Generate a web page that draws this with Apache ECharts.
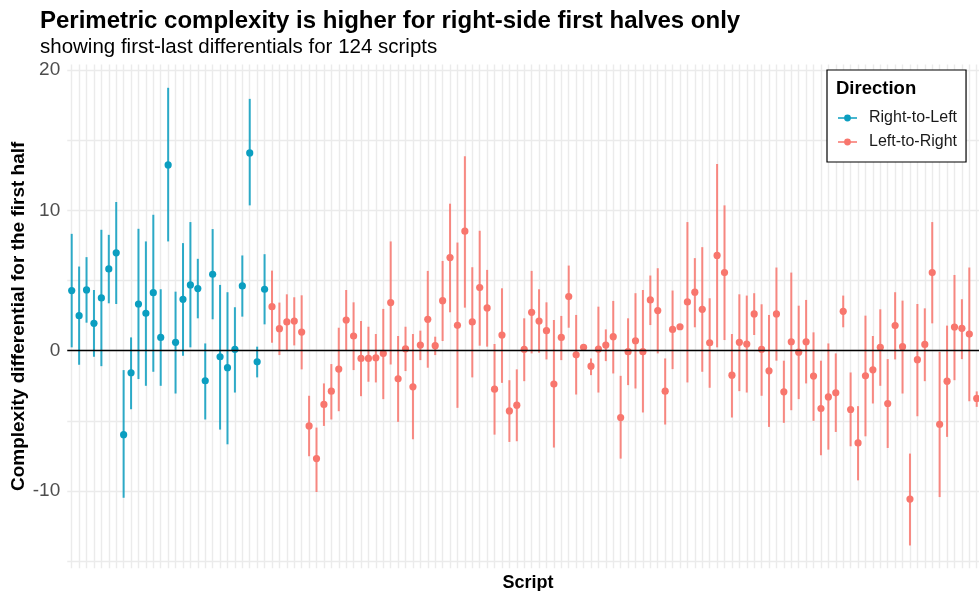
<!DOCTYPE html>
<html>
<head>
<meta charset="utf-8">
<script src="https://cdn.jsdelivr.net/npm/echarts@6/dist/echarts.min.js"></script>
<style>
  html, body { margin: 0; padding: 0; background: #fff; }
  #chart { width: 979px; height: 591px; }
</style>
</head>
<body>
<div id="chart"></div>
<script>
// first-last differentials (mean, lower, upper)
var rtlMean = [4.29, 2.5, 4.33, 1.95, 3.76, 5.83, 6.98, -5.98, -1.57, 3.33, 2.67, 4.14, 0.95, 13.24, 0.6, 3.67, 4.69, 4.43, -2.14, 5.45, -0.43, -1.21, 0.1, 4.62, 14.1, -0.79, 4.38];
var rtlLow = [0.24, -1.0, 2.0, -0.43, -1.1, 3.38, 3.33, -10.48, -4.17, -2.02, -2.5, -1.5, -2.5, 7.79, -3.05, -0.36, 0.24, 2.31, -4.9, 2.24, -5.62, -6.67, -2.98, 2.43, 10.36, -1.9, 1.88];
var rtlHigh = [8.33, 6.0, 6.67, 4.33, 8.62, 8.26, 10.6, -1.38, 0.95, 8.69, 7.79, 9.69, 4.38, 18.74, 4.21, 7.67, 9.17, 6.55, 0.52, 8.67, 4.69, 4.17, 3.1, 6.79, 17.95, 0.29, 6.88];

var ltrMean = [3.14, 1.57, 2.05, 2.12, 1.33, -5.36, -7.69, -3.83, -2.88, -1.31,
  2.19, 1.05, -0.55, -0.55, -0.5, -0.19, 3.43, -2.0, 0.14, -2.57,
  0.4, 2.24, 0.36, 3.57, 6.64, 1.81, 8.52, 2.05, 4.5, 3.05,
  -2.74, 1.12, -4.29, -3.88, 0.1, 2.74, 2.12, 1.43, -2.38, 0.95,
  3.86, -0.29, 0.24, -1.1, 0.12, 0.4, 1.0, -4.76, -0.07, 0.71,
  -0.07, 3.62, 2.86, -2.88, 1.52, 1.71, 3.48, 4.17, 2.95, 0.57,
  6.79, 5.57, -1.74, 0.6, 0.48, 2.62, 0.1, -1.43, 2.62, -2.93,
  0.64, -0.1, 0.64, -1.81, -4.12, -3.29, -3.0, 2.81, -4.19, -6.57,
  -1.79, -1.36, 0.24, -3.76, 1.79, 0.29, -10.57, -0.64, 0.45, 5.57,
  -5.24, -2.17, 1.69, 1.6, 1.19, -3.4];
var ltrLow = [0.57, -0.31, 0.05, 0.38, -1.33, -7.52, -10.07, -5.36, -4.9, -4.31,
  0.05, -1.38, -3.24, -2.21, -2.26, -3.45, -0.98, -5.07, -1.45, -6.31,
  -0.67, -1.21, -0.31, 0.69, 2.74, -4.07, 3.07, -1.9, 0.36, 0.29,
  -5.98, -2.29, -6.5, -6.45, -2.17, -0.19, -0.14, -0.62, -6.9, -0.67,
  1.64, -3.12, 0.05, -1.74, -2.98, -0.74, -1.62, -7.69, -2.45, -2.69,
  -4.4, 1.83, -0.19, -5.26, -1.31, 1.6, -2.26, 1.67, -1.5, -2.64,
  0.24, 0.76, -4.76, -2.88, -2.98, 1.12, -3.21, -5.43, -0.71, -5.14,
  -4.24, -3.45, -2.33, -5.0, -7.45, -7.05, -5.79, 1.67, -6.81, -9.24,
  -6.1, -3.76, -2.5, -6.93, -0.62, -3.05, -13.88, -4.67, -2.17, 1.95,
  -10.43, -6.14, -2.1, -0.6, -3.6, -4.0];
var ltrHigh = [5.71, 3.43, 4.02, 3.81, 3.95, -3.21, -5.48, -2.33, -0.95, 1.64,
  4.33, 3.45, 2.12, 1.71, 1.19, 2.98, 7.79, 1.05, 1.71, 1.19,
  1.43, 5.69, 1.0, 6.4, 10.48, 7.71, 13.86, 5.95, 8.55, 5.76,
  0.48, 4.45, -2.1, -1.33, 2.31, 5.69, 4.38, 3.45, 2.19, 2.48,
  6.07, 2.55, 0.4, -0.55, 3.14, 1.52, 3.55, -1.79, 2.31, 4.1,
  4.33, 5.36, 5.88, -0.55, 4.29, 1.8, 9.17, 6.6, 7.38, 3.74,
  13.31, 10.36, 1.19, 4.02, 3.93, 4.1, 3.31, 2.55, 5.93, -0.71,
  5.57, 3.21, 3.62, 1.31, -0.71, 0.52, -0.19, 3.93, -1.55, -3.95,
  2.5, 1.05, 2.95, -0.6, 4.17, 3.57, -7.33, 3.33, 3.02, 9.17,
  -0.07, 1.79, 5.4, 3.67, 5.93, -2.9];

var yTicks = [-10, 0, 10, 20];
var scriptCount = 124;

var blue = '#0B9EC0';
var red = '#F8766D';
var font = "'Liberation Sans', Arial, sans-serif";
var keyIcon = 'path://M0,3H19V4.4H0Z M9.5,0.3A3.4,3.4 0 1 1 9.49,0.3Z';

function build(mean, low, high, offset) {
  return mean.map(function (m, i) {
    return [offset + i, low[i], high[i], m];
  });
}

function renderBar(params, api) {
  var x = api.value(0);
  var top = api.coord([x, api.value(2)]);
  var bottom = api.coord([x, api.value(1)]);
  var mid = api.coord([x, api.value(3)]);
  var color = api.visual('color');
  return {
    type: 'group',
    children: [{
      type: 'line',
      shape: { x1: top[0], y1: top[1], x2: bottom[0], y2: bottom[1] },
      style: { stroke: color, lineWidth: 2, opacity: 0.85 }
    }, {
      type: 'circle',
      shape: { cx: mid[0], cy: mid[1], r: 3.6 },
      style: { fill: color }
    }]
  };
}

var myChart = echarts.init(document.getElementById('chart'));
var option = {
  backgroundColor: '#fff',
  animation: false,
  textStyle: { fontFamily: font },
  title: [{
    text: 'Perimetric complexity is higher for right-side first halves only',
    left: 35, top: 4,
    textStyle: { fontSize: 24, fontWeight: 'bold', color: '#000', fontFamily: font }
  }, {
    text: 'showing first-last differentials for 124 scripts',
    left: 35, top: 32,
    textStyle: { fontSize: 20.5, fontWeight: 'normal', color: '#000', fontFamily: font }
  }, {
    text: 'Direction',
    left: 831, top: 74, z: 10,
    textStyle: { fontSize: 18.5, fontWeight: 'bold', color: '#000', fontFamily: font }
  }],
  legend: {
    orient: 'vertical',
    left: 827, top: 70,
    padding: [40, 9, 12, 11],
    backgroundColor: '#fff',
    borderColor: '#000',
    borderWidth: 1.2,
    itemWidth: 19,
    itemHeight: 7,
    itemGap: 8,
    textStyle: { fontSize: 16, lineHeight: 16, color: '#1a1a1a', padding: [0, 0, 0, 7], fontFamily: font },
    data: [{ name: 'Right-to-Left', icon: keyIcon }, { name: 'Left-to-Right', icon: keyIcon }]
  },
  grid: { left: 67.25, right: -9.6, top: 64.5, bottom: 22.8, outerBoundsMode: 'none', containLabel: false },
  xAxis: {
    type: 'value',
    min: 0.4,
    max: scriptCount + 0.6,
    minInterval: 1,
    maxInterval: 1,
    name: 'Script',
    nameLocation: 'middle',
    nameGap: 6,
    nameTextStyle: { fontSize: 18, fontWeight: 'bold', color: '#000', fontFamily: font },
    axisLine: { show: false },
    axisTick: { show: false },
    axisLabel: { show: false },
    splitLine: { show: true, showMinLine: false, showMaxLine: false, lineStyle: { color: '#EBEBEB', width: 1.4 } }
  },
  yAxis: {
    type: 'value',
    min: -15.5,
    max: 20.4,
    minInterval: 5,
    maxInterval: 5,
    name: 'Complexity differential for the first half',
    nameLocation: 'middle',
    nameRotate: 90,
    nameGap: 39,
    nameMoveOverlap: false,
    nameTextStyle: { fontSize: 19, fontWeight: 'bold', color: '#000', fontFamily: font },
    axisLine: { show: false },
    axisTick: { show: false },
    axisLabel: {
      margin: 7,
      fontSize: 19,
      color: '#4D4D4D',
      fontFamily: font,
      showMinLabel: false,
      showMaxLabel: false,
      formatter: function (v) { return yTicks.indexOf(v) >= 0 ? String(v) : ''; }
    },
    splitLine: { show: true, showMinLine: false, showMaxLine: false, lineStyle: { color: '#EBEBEB', width: 1.4 } }
  },
  series: [{
    name: 'Right-to-Left',
    type: 'custom',
    color: blue,
    renderItem: renderBar,
    encode: { x: 0, y: [1, 2, 3] },
    data: build(rtlMean, rtlLow, rtlHigh, 1),
    markLine: {
      silent: true,
      symbol: 'none',
      label: { show: false },
      lineStyle: { color: '#000', width: 1.3, type: 'solid' },
      data: [{ yAxis: 0 }]
    }
  }, {
    name: 'Left-to-Right',
    type: 'custom',
    color: red,
    renderItem: renderBar,
    encode: { x: 0, y: [1, 2, 3] },
    data: build(ltrMean, ltrLow, ltrHigh, rtlMean.length + 1)
  }]
};

myChart.setOption(option);
</script>
</body>
</html>
